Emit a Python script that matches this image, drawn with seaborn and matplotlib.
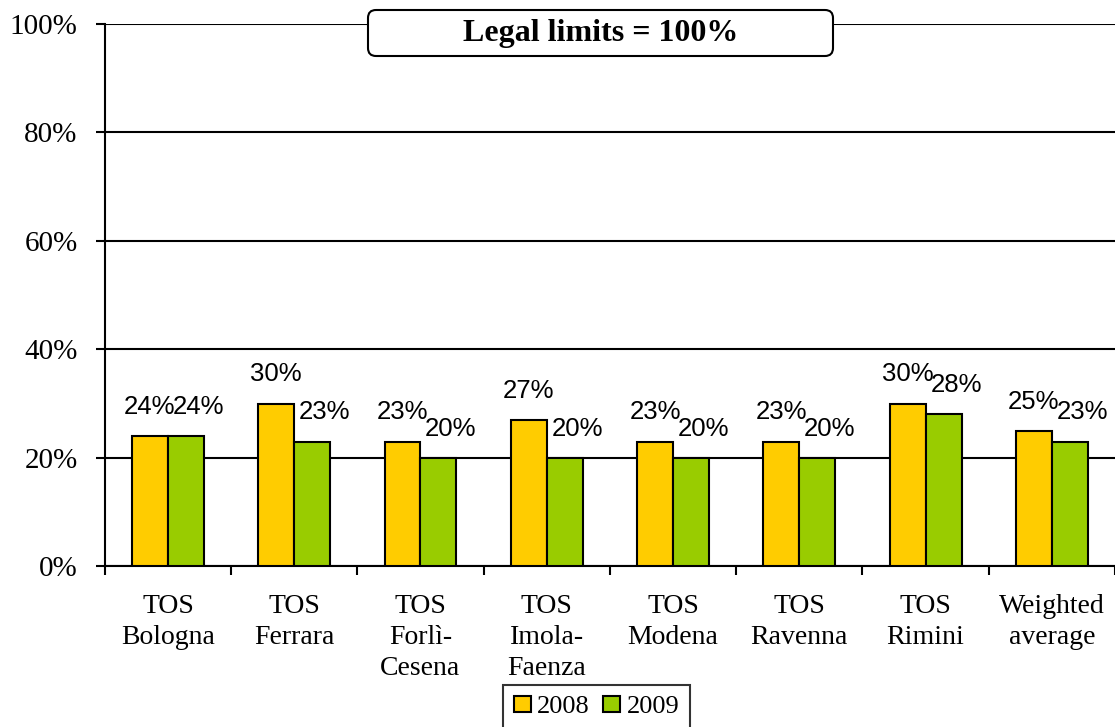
import numpy as np
import pandas as pd
import matplotlib.pyplot as plt
import seaborn as sns
from matplotlib.patches import FancyBboxPatch

# data
areas = ['TOS\nBologna', 'TOS\nFerrara', 'TOS\nForlì-\nCesena', 'TOS\nImola-\nFaenza',
         'TOS\nModena', 'TOS\nRavenna', 'TOS\nRimini', 'Weighted\naverage']
years = ['2008', '2009']
v2008 = [0.24, 0.30, 0.23, 0.27, 0.23, 0.23, 0.30, 0.25]
v2009 = [0.24, 0.23, 0.20, 0.20, 0.20, 0.20, 0.28, 0.23]
colors = ['#FFCC00', '#99CC00']

df = pd.DataFrame({'area': areas * 2,
                   'year': ['2008'] * len(areas) + ['2009'] * len(areas),
                   'value': v2008 + v2009})

sns.set_theme(style='white')
plt.rcParams['font.family'] = ['Liberation Serif', 'DejaVu Serif']
plt.rcParams['text.color'] = 'black'
plt.rcParams['xtick.color'] = 'black'
plt.rcParams['ytick.color'] = 'black'

fig = plt.figure(figsize=(11.15, 7.27), dpi=100)
ax = fig.add_axes([0.094, 0.221, 0.906, 0.746])

sns.barplot(data=df, x='area', y='value', hue='year', palette=colors,
            width=0.57, edgecolor='black', linewidth=1.5, saturation=1,
            legend=True, ax=ax, zorder=3)

# value labels above bars (Arial-like)
shifts = [0, 9]
for cont, vals, dx in zip(ax.containers, [v2008, v2009], shifts):
    for rect, v in zip(cont, vals):
        ax.annotate(f'{v:.0%}', (rect.get_x() + rect.get_width() / 2, rect.get_height()),
                    xytext=(dx, 21), textcoords='offset points', ha='center', va='center',
                    fontsize=18.5, family='Liberation Sans', color='black', zorder=4)

ax.set_ylim(0, 1.0)
ax.set_xlim(-0.5, len(areas) - 0.5)
ax.set_yticks(np.arange(0, 1.01, 0.2))
ax.set_yticklabels([f'{int(t * 100)}%' for t in np.arange(0, 1.01, 0.2)], fontsize=21)
ax.yaxis.grid(True, color='black', linewidth=1.5, zorder=0)
ax.set_axisbelow(True)
ax.tick_params(axis='y', direction='out', length=6.5, width=1.5, color='black', pad=13, left=True)

ax.set_xticks(np.arange(-0.5, len(areas), 1))
ax.set_xticklabels([])
ax.set_xticks(np.arange(len(areas)), minor=True)
ax.set_xticklabels(areas, minor=True, fontsize=20, linespacing=1.3, va='top')
ax.tick_params(axis='x', which='major', direction='out', length=6.5, width=1.5, color='black', bottom=True)
ax.tick_params(axis='x', which='minor', length=0, pad=20)

for s in ['top', 'right']:
    ax.spines[s].set_visible(False)
for s in ['left', 'bottom']:
    ax.spines[s].set_color('black')
    ax.spines[s].set_linewidth(1.5)
ax.set_xlabel('')
ax.set_ylabel('')

# legend under the axis
leg = ax.legend(loc='upper left', bbox_to_anchor=(503 / 1115, 1 - 685 / 727),
                bbox_transform=fig.transFigure, ncol=2, frameon=True, fancybox=False,
                edgecolor='black', fontsize=19, handlelength=0.65, handleheight=0.6,
                handletextpad=0.25, columnspacing=0.5, borderpad=0.4, borderaxespad=0)
leg.get_frame().set_linewidth(1.5)
leg.set_zorder(10)
for h in leg.legend_handles:
    h.set_edgecolor('black')
    h.set_linewidth(1.5)

# title box "Legal limits"
box = FancyBboxPatch((3.68, 6.71), 4.65, 0.46, boxstyle='round,pad=0,rounding_size=0.08',
                     transform=fig.dpi_scale_trans, facecolor='white', edgecolor='black',
                     linewidth=1.5, zorder=5)
fig.patches.append(box)
fig.text(6.005, 6.93, 'Legal limits = 100%', transform=fig.dpi_scale_trans,
         ha='center', va='center', fontsize=23, fontweight='bold', zorder=6)

fig.savefig('out.png', dpi=100, facecolor='white')
